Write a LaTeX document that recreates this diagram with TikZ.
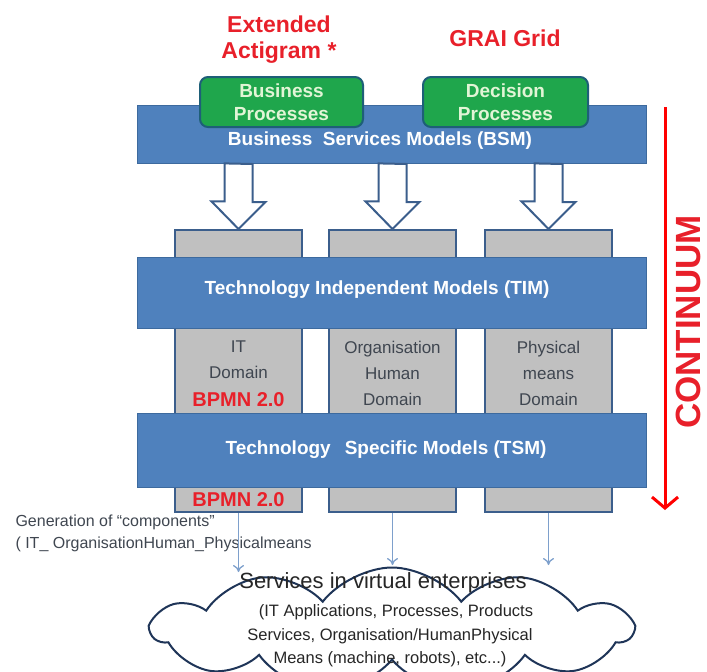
\documentclass[tikz,border=0pt]{standalone}
\usepackage{fontspec}
\setmainfont{Liberation Sans}
\usetikzlibrary{shapes.symbols,arrows.meta}

\definecolor{barblue}{HTML}{4F81BD}
\definecolor{barline}{HTML}{3D6A9E}
\definecolor{domgrey}{HTML}{C0C0C0}
\definecolor{domline}{HTML}{3B5E8C}
\definecolor{procgreen}{HTML}{1FA64C}
\definecolor{procline}{HTML}{1E5F78}
\definecolor{proctext}{HTML}{E2F5D6}
\definecolor{thinblue}{HTML}{7EA0CC}
\definecolor{cloudline}{HTML}{1F3558}
\definecolor{labelred}{HTML}{E8202A}
\definecolor{greytext}{HTML}{3F4650}

\begin{document}
\begin{tikzpicture}[x=1pt,y=-1pt,
    modelbar/.style={draw=barline,fill=barblue,line width=0.8pt,minimum width=509pt},
    bartext/.style={text=white,font=\fontsize{19}{23}\selectfont\bfseries},
    dombox/.style={draw=domline,fill=domgrey,line width=2pt,minimum width=127pt,minimum height=282pt},
    domtext/.style={text=greytext,align=center,font=\fontsize{17}{26}\selectfont},
    bpmn/.style={text=labelred,font=\fontsize{20}{24}\selectfont\bfseries},
    process/.style={draw=procline,fill=procgreen,line width=2pt,rounded corners=8pt,minimum height=50pt,
      text=proctext,align=center,font=\fontsize{19}{23}\selectfont\bfseries},
    toplabel/.style={text=labelred,align=center,font=\fontsize{23}{26}\selectfont\bfseries},
    hollowarrow/.style={draw=domline,fill=white,line width=2pt,line join=miter},
    thinarrow/.style={draw=thinblue,line width=1.3pt,-{To[length=7pt,width=11pt]}}]
  \useasboundingbox (0,0) rectangle (707,672);
  \clip (0,0) rectangle (707,672);

  \node [dombox] (d1) at (238.5,371) {};
  \node [dombox] (d2) at (392.5,371) {};
  \node [dombox] (d3) at (548.5,371) {};

  \node [modelbar, minimum height=58pt] (bsm) at (391.5,134) {};
  \node [modelbar, minimum height=71pt] (tim) at (391.5,292.5) {};
  \node [modelbar, minimum height=74pt] (tsm) at (391.5,450) {};
  \node [bartext] at (380,141) {Business\ \ Services Models (BSM)};
  \node [bartext] at (377,290) {Technology Independent Models (TIM)};
  \node [bartext] at (386,450) {Technology\hspace{14pt}Specific Models (TSM)};

  \node [process, minimum width=163pt] (bp) at (281.5,102) {Business\\Processes};
  \node [process, minimum width=165pt] (dp) at (505.5,102) {Decision\\Processes};
  \node [toplabel] (actigram) at (279,40) {Extended\\Actigram *};
  \node [toplabel] (grai) at (505,38) {GRAI Grid};

  \foreach \i in {1,2,3}
    \draw [hollowarrow] (bsm.south -| d\i.north) ++(-14,0) -- ++(0,38) -- ++(-13,0)
      -- (d\i.north) -- ++(27,-27) -- ++(-13,0) -- ++(0,-38) -- cycle;

  \node [domtext] at (238.5,360) {IT\\Domain};
  \node [bpmn] at (238.5,400) {BPMN 2.0};
  \node [domtext] at (392.5,373) {Organisation\\Human\\Domain};
  \node [domtext] at (548.5,373) {Physical\\means\\Domain};
  \node [bpmn] at (238.5,500) {BPMN 2.0};

  \node [text=greytext, anchor=west, align=left, font=\fontsize{16}{22}\selectfont] (gen) at (12,533)
    {Generation of ``components''\\( IT\_ OrganisationHuman\_Physicalmeans};

  \node [cloud, draw=cloudline, line width=2pt, fill=white, cloud puffs=11, cloud puff arc=105, aspect=3.8,
    minimum width=480pt, minimum height=125pt] (cloud) at (392,630) {};
  \coordinate (c1) at (238.5,572);
  \coordinate (c2) at (392.5,565);
  \coordinate (c3) at (548.5,565);
  \draw [thinarrow] (d1.south) -- (c1);
  \draw [thinarrow] (d2.south) -- (c2);
  \draw [thinarrow] (d3.south) -- (c3);
  \node [text=black!85, font=\fontsize{22}{26}\selectfont] at (383,583) {Services in virtual enterprises};
  \node [text=black!85, align=center, font=\fontsize{16.5}{23.5}\selectfont] at (390,636)
    {\hspace{12pt}(IT Applications, Processes, Products\\Services, Organisation/HumanPhysical\\Means (machine, robots), etc...)};

  \coordinate (ctop) at (665,107);
  \coordinate (cbot) at (665,510);
  \draw [red, line width=3pt, -{Straight Barb[length=11pt,width=26pt]}] (ctop) -- (cbot);
  \node [rotate=90, text=labelred, inner sep=1pt, font=\fontsize{35}{40}\selectfont\bfseries] (continuum) at (688,322) {CONTINUUM};
\end{tikzpicture}
\end{document}
